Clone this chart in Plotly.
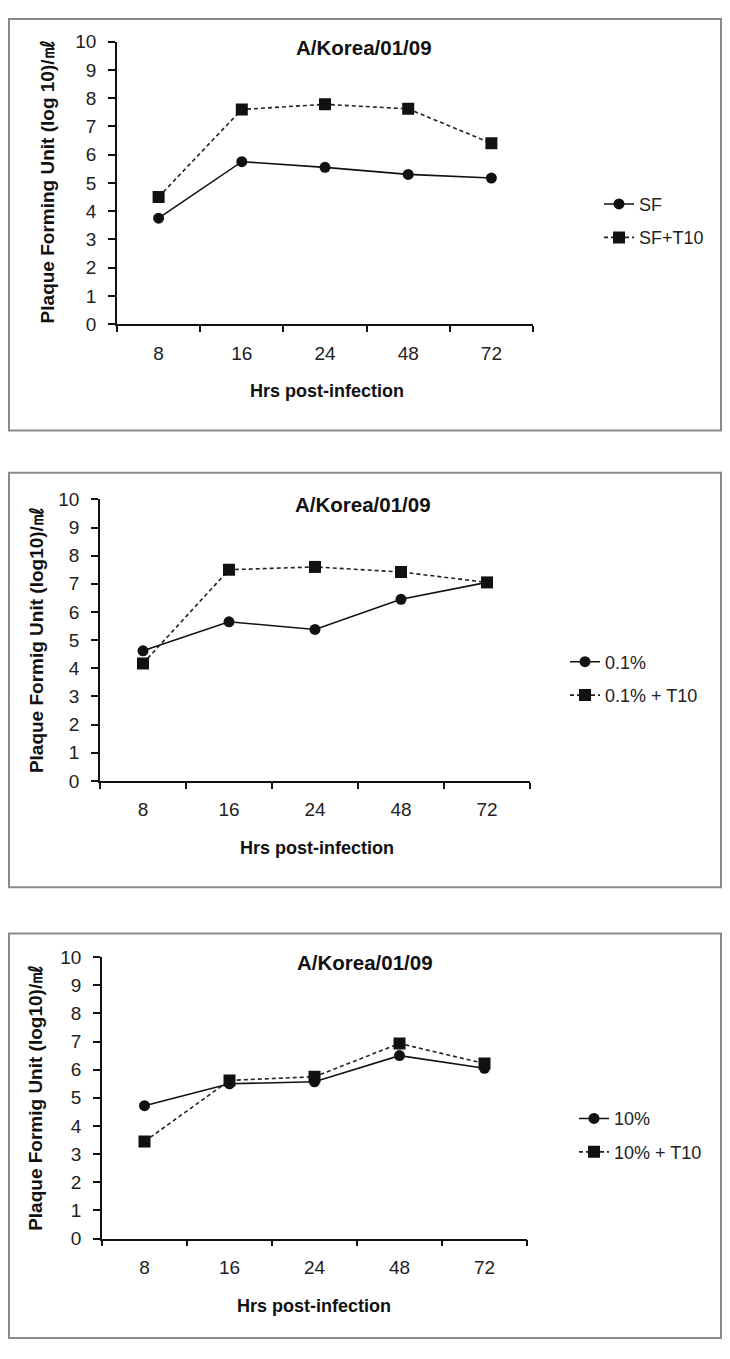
import plotly.graph_objects as go

# page has an 8px body margin; figure sized so the page is exactly 730x1359
OFF = 8
W, H = 730 - 2 * OFF, 1359 - 2 * OFF

hours = ["8", "16", "24", "48", "72"]
y_ticks = list(range(0, 11))

chart_title = "A/Korea/01/09"
x_title = "Hrs post-infection"
y_titles = [
    "Plaque Forming Unit (log 10)/㎖",
    "Plaque Formig Unit (log10)/㎖",
    "Plaque Formig Unit (log10)/㎖",
]

names_1 = ["SF", "SF+T10"]
sf = [3.75, 5.75, 5.55, 5.30, 5.17]
sf_t10 = [4.50, 7.60, 7.78, 7.62, 6.40]

names_2 = ["0.1%", "0.1% + T10"]
p01 = [4.62, 5.65, 5.38, 6.45, 7.05]
p01_t10 = [4.17, 7.50, 7.60, 7.42, 7.05]

names_3 = ["10%", "10% + T10"]
p10 = [4.72, 5.50, 5.57, 6.50, 6.05]
p10_t10 = [3.45, 5.62, 5.75, 6.93, 6.22]


def px(v):
    return (v - OFF) / W


def py(v):
    return 1 - (v - OFF) / H


FONT = "Liberation Sans, Arial, sans-serif"

# layout geometry in screen pixels for each panel
panels = [
    dict(box=(9, 9, 721, 427), xa=(117, 533), ya=(319, 32), leg=(599, 214),
         title=(364, 38), ytitle=(47, 175), xtitle=(327, 387),
         names=names_1, s1=sf, s2=sf_t10),
    dict(box=(9, 470, 721, 891), xa=(100, 530), ya=(783, 497), leg=(565, 679),
         title=(363, 502), ytitle=(36, 640), xtitle=(317, 851),
         names=names_2, s1=p01, s2=p01_t10),
    dict(box=(9, 938, 721, 1349), xa=(102, 527), ya=(1248, 962), leg=(574, 1143),
         title=(365, 967), ytitle=(36, 1105), xtitle=(314, 1316),
         names=names_3, s1=p10, s2=p10_t10),
]

fig = go.Figure()
layout = dict(
    width=W, height=H,
    margin=dict(l=0, r=0, t=0, b=0),
    paper_bgcolor="white", plot_bgcolor="white",
    font=dict(family=FONT, color="#111", size=18),
    shapes=[], annotations=[],
)

for i, p in enumerate(panels, start=1):
    sfx = "" if i == 1 else str(i)
    legname = "legend" if i == 1 else f"legend{i}"
    fig.add_trace(go.Scatter(
        x=hours, y=p["s1"], name=p["names"][0], mode="lines+markers",
        xaxis="x" + sfx, yaxis="y" + sfx, legend=legname, legendgroup=f"g{i}a",
        line=dict(color="#111", width=1.6),
        marker=dict(symbol="circle", size=11, color="#111"),
    ))
    fig.add_trace(go.Scatter(
        x=hours, y=p["s2"], name=p["names"][1], mode="lines+markers",
        xaxis="x" + sfx, yaxis="y" + sfx, legend=legname, legendgroup=f"g{i}b",
        line=dict(color="#222", width=1.6, dash="4px,3px"),
        marker=dict(symbol="square", size=12, color="#111"),
    ))
    x0, x1 = p["xa"]
    yb, yt = p["ya"]
    layout["xaxis" + sfx] = dict(
        domain=[px(x0), px(x1)], anchor="y" + sfx, type="category",
        range=[-0.5, 4.5], tickson="boundaries", ticks="outside", ticklen=6,
        tickwidth=1.5, tickcolor="#111", showline=True, linecolor="#111",
        linewidth=1.5, showgrid=False, zeroline=False,
        tickfont=dict(size=19, family=FONT, color="#222"), ticklabelstandoff=11,
    )
    layout["yaxis" + sfx] = dict(
        domain=[py(yb), py(yt)], anchor="x" + sfx, range=[0, 10],
        tickvals=y_ticks, ticks="outside", ticklen=7, tickwidth=1.5,
        tickcolor="#111", showline=True, linecolor="#111", linewidth=1.5,
        showgrid=False, zeroline=False,
        tickfont=dict(size=19, family=FONT, color="#222"), ticklabelstandoff=8,
    )
    layout[legname] = dict(
        x=px(p["leg"][0]), y=py(p["leg"][1]), xanchor="left", yanchor="middle",
        bgcolor="rgba(0,0,0,0)", font=dict(size=18, family=FONT, color="#222"),
        tracegroupgap=7, traceorder="grouped",
    )
    bx0, by0, bx1, by1 = p["box"]
    layout["shapes"].append(dict(
        type="rect", xref="paper", yref="paper",
        x0=px(bx0), x1=px(bx1), y0=py(by1), y1=py(by0),
        line=dict(color="#8a8a8a", width=2), fillcolor="rgba(0,0,0,0)",
    ))
    layout["annotations"].append(dict(
        text="<b>" + chart_title + "</b>", xref="paper", yref="paper",
        x=px(p["title"][0]), y=py(p["title"][1]), showarrow=False,
        xanchor="center", yanchor="middle",
        font=dict(size=20.5, family=FONT, color="#111"),
    ))
    layout["annotations"].append(dict(
        text="<b>" + x_title + "</b>", xref="paper", yref="paper",
        x=px(p["xtitle"][0]), y=py(p["xtitle"][1]), showarrow=False,
        xanchor="center", yanchor="middle",
        font=dict(size=18, family=FONT, color="#111"),
    ))
    layout["annotations"].append(dict(
        text="<b>" + y_titles[i - 1] + "</b>", xref="paper", yref="paper",
        x=px(p["ytitle"][0]), y=py(p["ytitle"][1]), showarrow=False,
        textangle=-90, xanchor="center", yanchor="middle",
        font=dict(size=19, family=FONT, color="#111"),
    ))

fig.update_layout(**layout)
fig.update_layout(showlegend=True)
fig.write_html("out.html")
